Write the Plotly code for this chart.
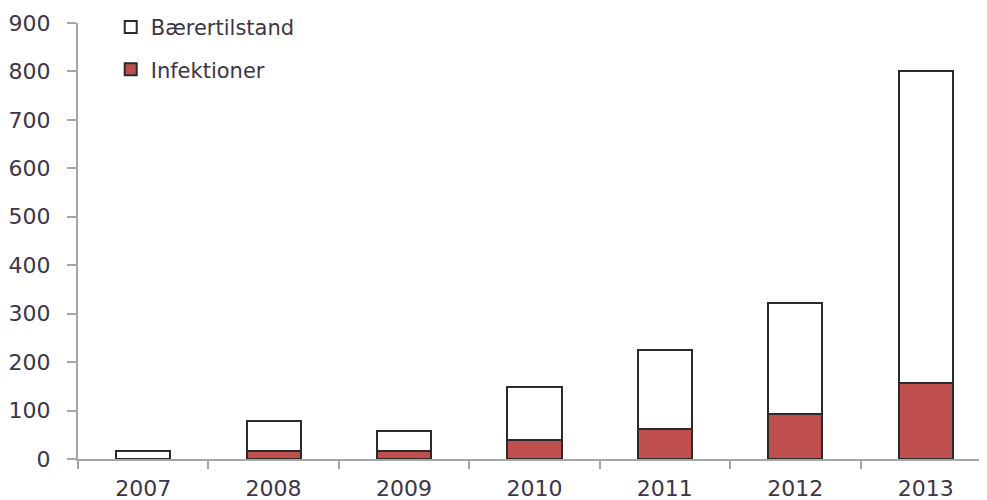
import plotly.graph_objects as go

years = ["2007", "2008", "2009", "2010", "2011", "2012", "2013"]
infektioner = [0, 17, 17, 39, 62, 92, 156]
baerertilstand = [17, 62, 40, 109, 164, 229, 644]

y_ticks = [0, 100, 200, 300, 400, 500, 600, 700, 800, 900]

text_color = "#3d3548"
font_family = "DejaVu Sans, Verdana, sans-serif"

fig = go.Figure()
fig.add_trace(go.Bar(
    x=years, y=infektioner, name="Infektioner",
    marker=dict(color="#c0504d", line=dict(color="#2b2b2b", width=2)),
    legendgroup="b", legendrank=2,
))
fig.add_trace(go.Bar(
    x=years, y=baerertilstand, name="Bærertilstand",
    marker=dict(color="#ffffff", line=dict(color="#2b2b2b", width=2)),
    legendgroup="a", legendrank=1,
))

# the page body has an 8px margin, so the figure is sized/offset to compensate
fig.update_layout(
    width=979, height=492,
    barmode="stack",
    bargap=0.585,
    paper_bgcolor="white",
    plot_bgcolor="white",
    margin=dict(l=70, r=0, t=15, b=41, autoexpand=False),
    font=dict(family=font_family, size=22, color=text_color),
    legend=dict(
        x=0.036, y=1.037, xanchor="left", yanchor="top",
        traceorder="grouped",
        tracegroupgap=12,
        bgcolor="rgba(0,0,0,0)",
        font=dict(size=21, color=text_color),
    ),
    xaxis=dict(
        type="category",
        range=[-0.5, 6.47],
        showline=True, linecolor="#a6a6a6", linewidth=2,
        ticks="outside", ticklen=8, tickcolor="#a6a6a6", tickwidth=2,
        tickson="boundaries",
        showgrid=False, zeroline=False,
        ticklabelstandoff=9,
        automargin=False,
        tickfont=dict(size=22, color=text_color),
    ),
    yaxis=dict(
        range=[0, 900],
        tickvals=y_ticks,
        ticktext=[str(v) for v in y_ticks],
        showline=True, linecolor="#a6a6a6", linewidth=2,
        ticks="outside", ticklen=9, tickcolor="#a6a6a6", tickwidth=2,
        showgrid=False, zeroline=False,
        ticklabelstandoff=12,
        automargin=False,
        tickfont=dict(size=22, color=text_color),
    ),
)

fig.write_html("out.html")
